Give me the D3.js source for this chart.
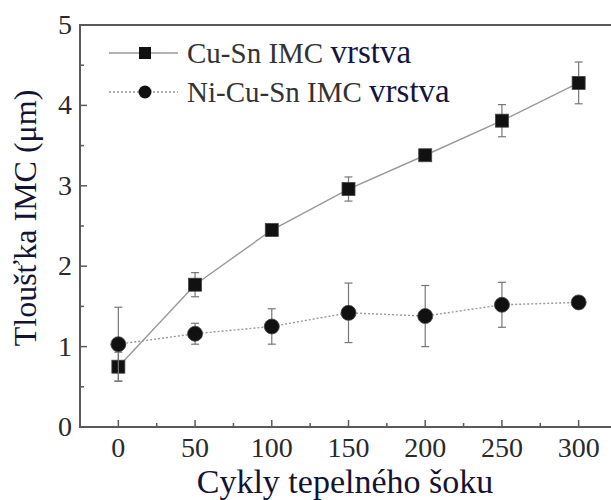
<!DOCTYPE html>
<html>
<head>
<meta charset="utf-8">
<script src="https://cdn.jsdelivr.net/npm/d3@7"></script>
<style>
  body { margin: 0; background: #fff; }
</style>
</head>
<body>
<div id="container"></div>
<script>
/* DATA */
const cycles = [0, 50, 100, 150, 200, 250, 300];
const cuSn = [0.75, 1.77, 2.45, 2.96, 3.38, 3.81, 4.28];
const cuSnErr = [0.18, 0.15, 0.05, 0.15, 0.06, 0.2, 0.26];
const niCuSn = [1.03, 1.16, 1.25, 1.42, 1.38, 1.52, 1.55];
const niCuSnErr = [0.46, 0.13, 0.22, 0.37, 0.38, 0.28, 0.07];
const xTicks = [0, 50, 100, 150, 200, 250, 300];
const yTicks = [0, 1, 2, 3, 4, 5];

/* CONSTANTS */
const width = 611, height = 500;
const serif = "'Liberation Serif'";

const svg = d3.select("#container")
  .append("svg")
  .attr("width", width)
  .attr("height", height)
  .attr("font-family", serif);

const x = d3.scaleLinear().domain([-25, 325]).range([80, 617]);
const y = d3.scaleLinear().domain([0, 5]).range([427, 25]);

const axisColor = "#5a5a5a";

// frame
svg.append("rect")
  .attr("x", x(-25)).attr("y", y(5))
  .attr("width", x(325) - x(-25)).attr("height", y(0) - y(5))
  .attr("fill", "none").attr("stroke", axisColor).attr("stroke-width", 2);

// x ticks (inward)
svg.append("g")
  .selectAll("line")
  .data(d3.range(0, 325, 25))
  .join("line")
  .attr("x1", d => x(d)).attr("x2", d => x(d))
  .attr("y1", y(0)).attr("y2", d => y(0) - (d % 50 === 0 ? 7 : 4))
  .attr("stroke", axisColor).attr("stroke-width", 1.5);

svg.append("g")
  .selectAll("text")
  .data(xTicks)
  .join("text")
  .attr("x", d => x(d)).attr("y", 457)
  .attr("text-anchor", "middle")
  .style("font-size", "28px").style("fill", "#2a2a2a")
  .text(d => d);

// y ticks (inward)
svg.append("g")
  .selectAll("line")
  .data(d3.range(0, 5.01, 0.5))
  .join("line")
  .attr("x1", x(-25)).attr("x2", d => x(-25) + (d % 1 === 0 ? 7 : 4))
  .attr("y1", d => y(d)).attr("y2", d => y(d))
  .attr("stroke", axisColor).attr("stroke-width", 1.5);

svg.append("g")
  .selectAll("text")
  .data(yTicks)
  .join("text")
  .attr("x", 72).attr("y", d => y(d) + 9)
  .attr("text-anchor", "end")
  .style("font-size", "28px").style("fill", "#2a2a2a")
  .text(d => d);

// axis titles
svg.append("text")
  .attr("x", 345).attr("y", 493)
  .attr("text-anchor", "middle")
  .style("font-size", "34px").style("fill", "#141432")
  .text("Cykly tepelného šoku");

svg.append("text")
  .attr("transform", "translate(36,218) rotate(-90)")
  .attr("text-anchor", "middle")
  .style("font-size", "32px").style("fill", "#141432")
  .text("Tloušťka IMC (μm)");

// series
const series = [
  { name: "Cu-Sn IMC", vals: cuSn, err: cuSnErr, dash: null, shape: "square" },
  { name: "Ni-Cu-Sn IMC", vals: niCuSn, err: niCuSnErr, dash: "2,2", shape: "circle" }
];

const line = d3.line().x(d => x(d[0])).y(d => y(d[1]));

series.forEach(s => {
  const pts = cycles.map((c, i) => [c, s.vals[i], s.err[i]]);
  const g = svg.append("g");

  g.append("path")
    .attr("d", line(pts))
    .attr("fill", "none")
    .attr("stroke", "#999")
    .attr("stroke-width", 1.4)
    .attr("stroke-dasharray", s.dash);

  // error bars
  g.selectAll("line.err")
    .data(pts)
    .join("line")
    .attr("class", "err")
    .attr("x1", d => x(d[0])).attr("x2", d => x(d[0]))
    .attr("y1", d => y(d[1] - d[2])).attr("y2", d => y(d[1] + d[2]))
    .attr("stroke", "#777").attr("stroke-width", 1.2);
  g.selectAll("line.capT")
    .data(pts)
    .join("line")
    .attr("class", "capT")
    .attr("x1", d => x(d[0]) - 4).attr("x2", d => x(d[0]) + 4)
    .attr("y1", d => y(d[1] + d[2])).attr("y2", d => y(d[1] + d[2]))
    .attr("stroke", "#777").attr("stroke-width", 1.2);
  g.selectAll("line.capB")
    .data(pts)
    .join("line")
    .attr("class", "capB")
    .attr("x1", d => x(d[0]) - 4).attr("x2", d => x(d[0]) + 4)
    .attr("y1", d => y(d[1] - d[2])).attr("y2", d => y(d[1] - d[2]))
    .attr("stroke", "#777").attr("stroke-width", 1.2);

  if (s.shape === "square") {
    g.selectAll("rect.mk")
      .data(pts)
      .join("rect")
      .attr("class", "mk")
      .attr("x", d => x(d[0]) - 6.5).attr("y", d => y(d[1]) - 6.5)
      .attr("width", 13).attr("height", 13)
      .attr("fill", "#111").attr("stroke", "#444").attr("stroke-width", 0.8);
  } else {
    g.selectAll("circle.mk")
      .data(pts)
      .join("circle")
      .attr("class", "mk")
      .attr("cx", d => x(d[0])).attr("cy", d => y(d[1]))
      .attr("r", 7.5)
      .attr("fill", "#111").attr("stroke", "#444").attr("stroke-width", 0.8);
  }
});

// legend
const legendY = [53, 92];
series.forEach((s, i) => {
  const ly = legendY[i];
  svg.append("line")
    .attr("x1", 109).attr("x2", 178)
    .attr("y1", ly).attr("y2", ly)
    .attr("stroke", "#999").attr("stroke-width", 1.4)
    .attr("stroke-dasharray", s.dash);
  if (s.shape === "square") {
    svg.append("rect")
      .attr("x", 139).attr("y", ly - 6)
      .attr("width", 12).attr("height", 12)
      .attr("fill", "#111");
  } else {
    svg.append("circle")
      .attr("cx", 145).attr("cy", ly).attr("r", 6.5)
      .attr("fill", "#111");
  }
  const t = svg.append("text")
    .attr("x", 187).attr("y", ly + 10)
    .style("font-size", "29px").style("fill", "#333");
  t.append("tspan").text(s.name + " ");
  t.append("tspan")
    .style("font-size", "33px").style("fill", "#141440")
    .text("vrstva");
});
</script>
</body>
</html>
